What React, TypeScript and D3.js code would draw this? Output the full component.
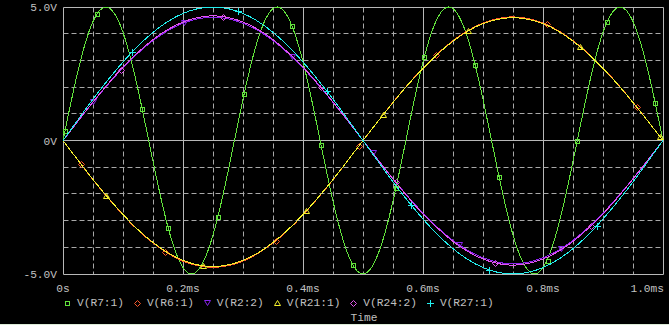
import React from 'react';
import * as d3 from 'd3';

// ---- data (time in ms, voltage in V) ----
const timeMs = [
  0, 0.025, 0.05, 0.075, 0.1, 0.125, 0.15, 0.175, 0.2, 0.225,
  0.25, 0.275, 0.3, 0.325, 0.35, 0.375, 0.4, 0.425, 0.45, 0.475,
  0.5, 0.525, 0.55, 0.575, 0.6, 0.625, 0.65, 0.675, 0.7, 0.725,
  0.75, 0.775, 0.8, 0.825, 0.85, 0.875, 0.9, 0.925, 0.95, 0.975, 1.0,
];

const vR7 = [
  0, 2.61, 4.46, 4.98, 4.05, 1.91, -0.78, -3.25, -4.76, -4.86,
  -3.54, -1.17, 1.55, 3.8, 4.94, 4.62, 2.94, 0.39, -2.27, -4.26,
  -5.0, -4.26, -2.27, 0.39, 2.94, 4.62, 4.94, 3.8, 1.55, -1.17,
  -3.54, -4.86, -4.76, -3.25, -0.78, 1.91, 4.05, 4.98, 4.46, 2.61, 0,
];

const vR6 = [
  0, -0.74, -1.47, -2.15, -2.79, -3.36, -3.84, -4.23, -4.52, -4.69,
  -4.75, -4.69, -4.52, -4.23, -3.84, -3.36, -2.79, -2.15, -1.47, -0.74,
  0, 0.72, 1.43, 2.1, 2.72, 3.27, 3.74, 4.12, 4.4, 4.57,
  4.63, 4.57, 4.4, 4.12, 3.74, 3.27, 2.72, 2.1, 1.43, 0.72, 0,
];

const vR2 = [
  0, 0.72, 1.43, 2.1, 2.72, 3.27, 3.74, 4.12, 4.39, 4.56,
  4.62, 4.56, 4.39, 4.12, 3.74, 3.27, 2.72, 2.1, 1.43, 0.72,
  0, -0.72, -1.43, -2.1, -2.72, -3.27, -3.74, -4.12, -4.39, -4.56,
  -4.62, -4.56, -4.39, -4.12, -3.74, -3.27, -2.72, -2.1, -1.43, -0.72, 0,
];

const vR21 = [
  0, -0.74, -1.46, -2.14, -2.77, -3.34, -3.82, -4.21, -4.49, -4.66,
  -4.72, -4.66, -4.49, -4.21, -3.82, -3.34, -2.77, -2.14, -1.46, -0.74,
  0, 0.72, 1.42, 2.09, 2.7, 3.25, 3.72, 4.1, 4.38, 4.54,
  4.6, 4.54, 4.38, 4.1, 3.72, 3.25, 2.7, 2.09, 1.42, 0.72, 0,
];

const vR24 = [
  0, 0.73, 1.44, 2.12, 2.75, 3.3, 3.78, 4.16, 4.44, 4.61,
  4.67, 4.61, 4.44, 4.16, 3.78, 3.3, 2.75, 2.12, 1.44, 0.73,
  0, -0.73, -1.44, -2.12, -2.75, -3.3, -3.78, -4.16, -4.44, -4.61,
  -4.67, -4.61, -4.44, -4.16, -3.78, -3.3, -2.75, -2.12, -1.44, -0.73, 0,
];

const vR27 = [
  0, 0.78, 1.55, 2.27, 2.94, 3.54, 4.05, 4.46, 4.76, 4.94,
  5.0, 4.94, 4.76, 4.46, 4.05, 3.54, 2.94, 2.27, 1.55, 0.78,
  0, -0.78, -1.55, -2.27, -2.94, -3.54, -4.05, -4.46, -4.76, -4.94,
  -5.0, -4.94, -4.76, -4.46, -4.05, -3.54, -2.94, -2.27, -1.55, -0.78, 0,
];

// marker positions
const mR7t = [0.0033, 0.057, 0.132, 0.1755, 0.258, 0.302, 0.382, 0.43, 0.483, 0.555, 0.602, 0.687, 0.727, 0.808, 0.857, 0.907, 0.987];
const mR7v = [0.36, 4.75, 1.18, -3.29, -2.86, 1.75, 4.27, -0.16, -4.66, -1.77, 3.11, 2.83, -1.38, -4.5, -0.02, 4.45, 1.41];
const mR6t = [0.03, 0.1705, 0.3555, 0.4928, 0.6217, 0.807, 0.957];
const mR6v = [-0.89, -4.19, -3.76, -0.22, 3.22, 4.36, 1.24];
const mR2t = [0.0505, 0.2017, 0.382, 0.516, 0.66, 0.83];
const mR2v = [1.44, 4.41, 3.12, -0.46, -3.9, -4.05];
const mR21t = [0.0717, 0.2328, 0.4055, 0.5333, 0.6745, 0.8617, 0.995];
const mR21v = [-2.06, -4.69, -2.64, 0.96, 4.09, 3.51, 0.14];
const mR24t = [0.096, 0.267, 0.4295, 0.5545, 0.72, 0.88];
const mR24v = [2.65, 4.64, 2.0, -1.57, -4.59, -3.2];
const mR27t = [0.1145, 0.291, 0.4395, 0.58, 0.7105, 0.89];
const mR27v = [3.3, 4.84, 1.86, -2.41, -4.85, -3.19];

const seriesNames = ['V(R7:1)', 'V(R6:1)', 'V(R2:2)', 'V(R21:1)', 'V(R24:2)', 'V(R27:1)'];

const xTickValues = [0, 0.2, 0.4, 0.6, 0.8, 1.0];
const xTickLabels = ['0s', '0.2ms', '0.4ms', '0.6ms', '0.8ms', '1.0ms'];
const yTickValues = [-5, 0, 5];
const yTickLabels = ['-5.0V', '0V', '5.0V'];
const xAxisTitle = 'Time';

// ---- layout / style ----
const W = 669;
const H = 325;
const FONT = '"Liberation Mono", "DejaVu Sans Mono", monospace';
const FS = 11.2;
const CHAR_W = 6.7;
const TEXT = '#c0c0c0';
const GRID = '#a8a8a8';

type Marker = 'square' | 'diamond' | 'triDown' | 'triUp' | 'plus';

const styles: { color: string; marker: Marker }[] = [
  { color: '#62e23c', marker: 'square' },
  { color: '#ff5a2a', marker: 'diamond' },
  { color: '#8a24ee', marker: 'triDown' },
  { color: '#f4f02c', marker: 'triUp' },
  { color: '#e455f0', marker: 'diamond' },
  { color: '#22eeee', marker: 'plus' },
];

const values = [vR7, vR6, vR2, vR21, vR24, vR27];
const markerT = [mR7t, mR6t, mR2t, mR21t, mR24t, mR27t];
const markerV = [mR7v, mR6v, mR2v, mR21v, mR24v, mR27v];

const x = d3.scaleLinear().domain([0, 1]).range([63, 663]);
const y = d3.scaleLinear().domain([-5, 5]).range([274, 7]);
const crisp = (v: number) => Math.floor(v) + 0.5;

function MarkerShape({ kind, cx, cy, color }: { kind: Marker; cx: number; cy: number; color: string }) {
  const r = Math.round(cx);
  const s = Math.round(cy);
  const common = { fill: 'none', stroke: color, strokeWidth: 1 };
  switch (kind) {
    case 'square':
      return <rect x={r - 1.5} y={s - 1.5} width={4} height={4} {...common} shapeRendering="crispEdges" />;
    case 'diamond':
      return <path d={`M${r + 0.5},${s - 2.5} L${r + 3.5},${s + 0.5} L${r + 0.5},${s + 3.5} L${r - 2.5},${s + 0.5} Z`} {...common} />;
    case 'triUp':
      return <path d={`M${r + 0.5},${s - 2.5} L${r + 3.5},${s + 2.5} L${r - 2.5},${s + 2.5} Z`} {...common} />;
    case 'triDown':
      return <path d={`M${r - 2.5},${s - 2.5} L${r + 3.5},${s - 2.5} L${r + 0.5},${s + 2.5} Z`} {...common} />;
    case 'plus':
      return <path d={`M${r - 3},${s + 0.5} L${r + 4},${s + 0.5} M${r + 0.5},${s - 3} L${r + 0.5},${s + 4}`} {...common} shapeRendering="crispEdges" />;
  }
}

export default function App() {
  const line = d3
    .line<number>()
    .x((_, i) => x(timeMs[i]))
    .y((d) => y(d))
    .curve(d3.curveNatural);

  const gridX = d3.range(0, 21).map((i) => i * 0.05);
  const gridY = d3.range(-5, 6);

  // legend layout
  let lx = 67;
  const legend = seriesNames.map((name, i) => {
    const item = { name, mx: lx, tx: lx + 10, i };
    lx = lx + 10 + name.length * CHAR_W + 13;
    return item;
  });

  return (
    <div style={{ position: 'absolute', left: 0, top: 0 }}>
      <svg width={W} height={H} style={{ display: 'block' }}>
        <rect x={0} y={0} width={W} height={H} fill="#000" />
        <rect x={0} y={H - 1} width={W} height={1} fill="#dcecd8" />

        {/* grid */}
        {gridX.map((t, i) => {
          const solid = i % 4 === 0;
          const px = crisp(x(t));
          return (
            <line
              key={'gx' + i}
              x1={px}
              x2={px}
              y1={crisp(y(5))}
              y2={crisp(y(-5))}
              stroke={solid ? '#b8b8b8' : GRID}
              strokeWidth={1}
              strokeDasharray={solid ? undefined : '5,3'}
            />
          );
        })}
        {gridY.map((v) => {
          const solid = v === 0 || Math.abs(v) === 5;
          const py = crisp(y(v));
          return (
            <line
              key={'gy' + v}
              x1={crisp(x(0))}
              x2={crisp(x(1))}
              y1={py}
              y2={py}
              stroke={solid ? '#b8b8b8' : GRID}
              strokeWidth={1}
              strokeDasharray={solid ? undefined : '5,3'}
            />
          );
        })}

        {/* traces */}
        {values.map((vals, si) => (
          <g key={'s' + si}>
            <path
              d={line(vals) || ''}
              fill="none"
              stroke={styles[si].color}
              strokeWidth={1}
              shapeRendering="crispEdges"
            />
            {markerT[si].map((t, k) => (
              <MarkerShape key={k} kind={styles[si].marker} cx={x(t)} cy={y(markerV[si][k])} color={styles[si].color} />
            ))}
          </g>
        ))}

        {/* axis labels */}
        <g fontFamily={FONT} fontSize={FS} fill={TEXT}>
          {yTickValues.map((v, i) => (
            <text key={'yt' + i} x={57} y={y(v) + 4} textAnchor="end">
              {yTickLabels[i]}
            </text>
          ))}
          {xTickValues.map((t, i) => (
            <text
              key={'xt' + i}
              x={i === xTickValues.length - 1 ? x(t) + 1 : x(t)}
              y={292}
              textAnchor={i === xTickValues.length - 1 ? 'end' : 'middle'}
            >
              {xTickLabels[i]}
            </text>
          ))}
          {legend.map((it) => (
            <g key={'lg' + it.i}>
              <MarkerShape kind={styles[it.i].marker} cx={it.mx} cy={303} color={styles[it.i].color} />
              <text x={it.tx} y={306}>
                {it.name}
              </text>
            </g>
          ))}
          <text x={364} y={321} textAnchor="middle">
            {xAxisTitle}
          </text>
        </g>
      </svg>
    </div>
  );
}
